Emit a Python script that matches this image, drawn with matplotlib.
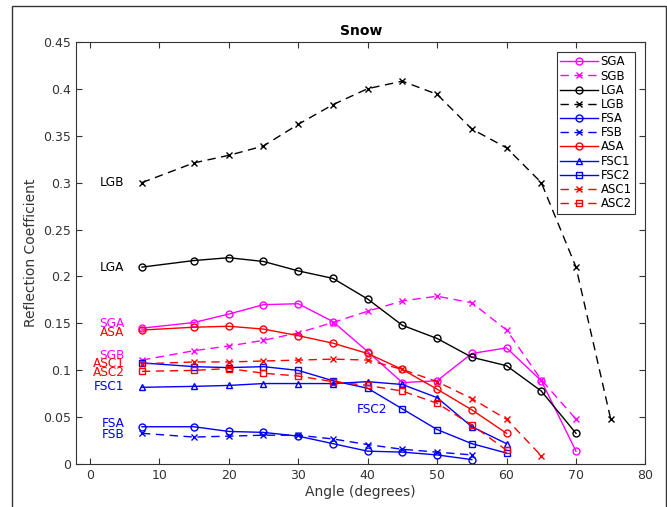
import numpy as np
import matplotlib
matplotlib.use("Agg")
import matplotlib.pyplot as plt
from matplotlib.ticker import FormatStrFormatter
from matplotlib.patches import Rectangle

# -----------------------
# data
# -----------------------
angles = [7.5, 15, 20, 25, 30, 35, 40, 45, 50, 55, 60, 65, 70, 75]

sga = [0.145, 0.151, 0.160, 0.170, 0.171, 0.152, 0.120, 0.087, 0.089, 0.118, 0.124, 0.089, 0.014]
sgb = [0.111, 0.121, 0.126, 0.132, 0.140, 0.151, 0.163, 0.174, 0.179, 0.172, 0.143, 0.090, 0.048]
lga = [0.210, 0.217, 0.220, 0.216, 0.206, 0.198, 0.176, 0.148, 0.134, 0.114, 0.105, 0.078, 0.033]
lgb = [0.300, 0.321, 0.329, 0.339, 0.362, 0.383, 0.400, 0.408, 0.394, 0.357, 0.337, 0.300, 0.210, 0.048]
fsa = [0.040, 0.040, 0.035, 0.034, 0.030, 0.022, 0.014, 0.013, 0.010, 0.005]
fsb = [0.033, 0.029, 0.030, 0.031, 0.031, 0.027, 0.021, 0.016, 0.013, 0.010]
asa = [0.143, 0.146, 0.147, 0.144, 0.137, 0.129, 0.118, 0.101, 0.080, 0.058, 0.033]
fsc1 = [0.082, 0.083, 0.084, 0.086, 0.086, 0.086, 0.088, 0.085, 0.071, 0.040, 0.022]
fsc2 = [0.108, 0.104, 0.103, 0.104, 0.100, 0.089, 0.081, 0.059, 0.037, 0.022, 0.012]
asc1 = [0.107, 0.109, 0.109, 0.110, 0.111, 0.112, 0.111, 0.101, 0.088, 0.070, 0.048, 0.009]
asc2 = [0.099, 0.100, 0.102, 0.097, 0.094, 0.088, 0.084, 0.078, 0.065, 0.042, 0.015]

names = ["SGA", "SGB", "LGA", "LGB", "FSA", "FSB", "ASA", "FSC1", "FSC2", "ASC1", "ASC2"]
series = [sga, sgb, lga, lgb, fsa, fsb, asa, fsc1, fsc2, asc1, asc2]
colors = ["#ff00ff", "#ff00ff", "black", "black", "#0000ff", "#0000ff",
          "#ff0000", "#0000ff", "#0000ff", "#ff0000", "#ff0000"]
styles = ["-", "--", "-", "--", "-", "--", "-", "-", "-", "--", "--"]
markers = ["o", "x", "o", "x", "o", "x", "o", "^", "s", "x", "s"]

# in-plot labels: (text, x, y, colour)
labels = [("LGB", 5, 0.300, "black"), ("LGA", 5, 0.210, "black"),
          ("SGA", 5, 0.150, "#ff00ff"), ("ASA", 5, 0.140, "#ff0000"),
          ("SGB", 5, 0.116, "#ff00ff"), ("ASC1", 5, 0.107, "#ff0000"),
          ("ASC2", 5, 0.098, "#ff0000"), ("FSC1", 5, 0.083, "#0000ff"),
          ("FSA", 5, 0.043, "#0000ff"), ("FSB", 5, 0.032, "#0000ff")]

# -----------------------
# plot
# -----------------------
fig = plt.figure(figsize=(6.67, 5.07), dpi=100)
ax = fig.add_axes([0.1139, 0.0842, 0.8538, 0.8335])

for name, vals, c, ls, m in zip(names, series, colors, styles, markers):
    ms = 4 if m == "s" else 5
    ax.plot(angles[:len(vals)], vals, color=c, linestyle=ls, marker=m,
            markersize=ms, markerfacecolor="none", markeredgewidth=1,
            linewidth=1, label=name, dashes=(6, 4) if ls == "--" else (None, None))

for txt, x, y, c in labels:
    ax.text(x, y, txt, color=c, ha="right", va="center", fontsize=8.7)
ax.text(40.6, 0.058, "FSC2", color="#0000ff", ha="center", va="center", fontsize=8.7)

ax.set_xlim(-2, 80)
ax.set_ylim(0, 0.45)
ax.set_xticks(np.arange(0, 81, 10))
ax.set_yticks(np.arange(0, 0.451, 0.05))
ax.yaxis.set_major_formatter(FormatStrFormatter("%g"))
ax.tick_params(direction="in", top=True, right=True, length=4, labelsize=9,
               colors="#333333", labelcolor="#333333")
for s in ax.spines.values():
    s.set_color("#333333")
    s.set_linewidth(0.8)

ax.set_title("Snow", fontsize=10, fontweight="bold", pad=5)
ax.set_xlabel("Angle (degrees)", fontsize=10, color="#333333", labelpad=2)
ax.set_ylabel("Reflection Coefficient", fontsize=10, color="#333333", labelpad=4)

leg = ax.legend(loc="upper right", bbox_to_anchor=(0.982, 0.976), borderaxespad=0,
                fontsize=8.5, handlelength=3.2, handletextpad=0.2, labelspacing=0.1,
                borderpad=0.3, fancybox=False, framealpha=1)
leg.get_frame().set_edgecolor("#333333")
leg.get_frame().set_linewidth(0.8)

# outer frame round the figure
fig.patches.append(Rectangle((12 / 667, -0.01), (665.5 - 12) / 667, (507 - 6) / 507 + 0.01,
                             transform=fig.transFigure, fill=False,
                             edgecolor="#333333", linewidth=1))

fig.savefig("out.png", dpi=100)
